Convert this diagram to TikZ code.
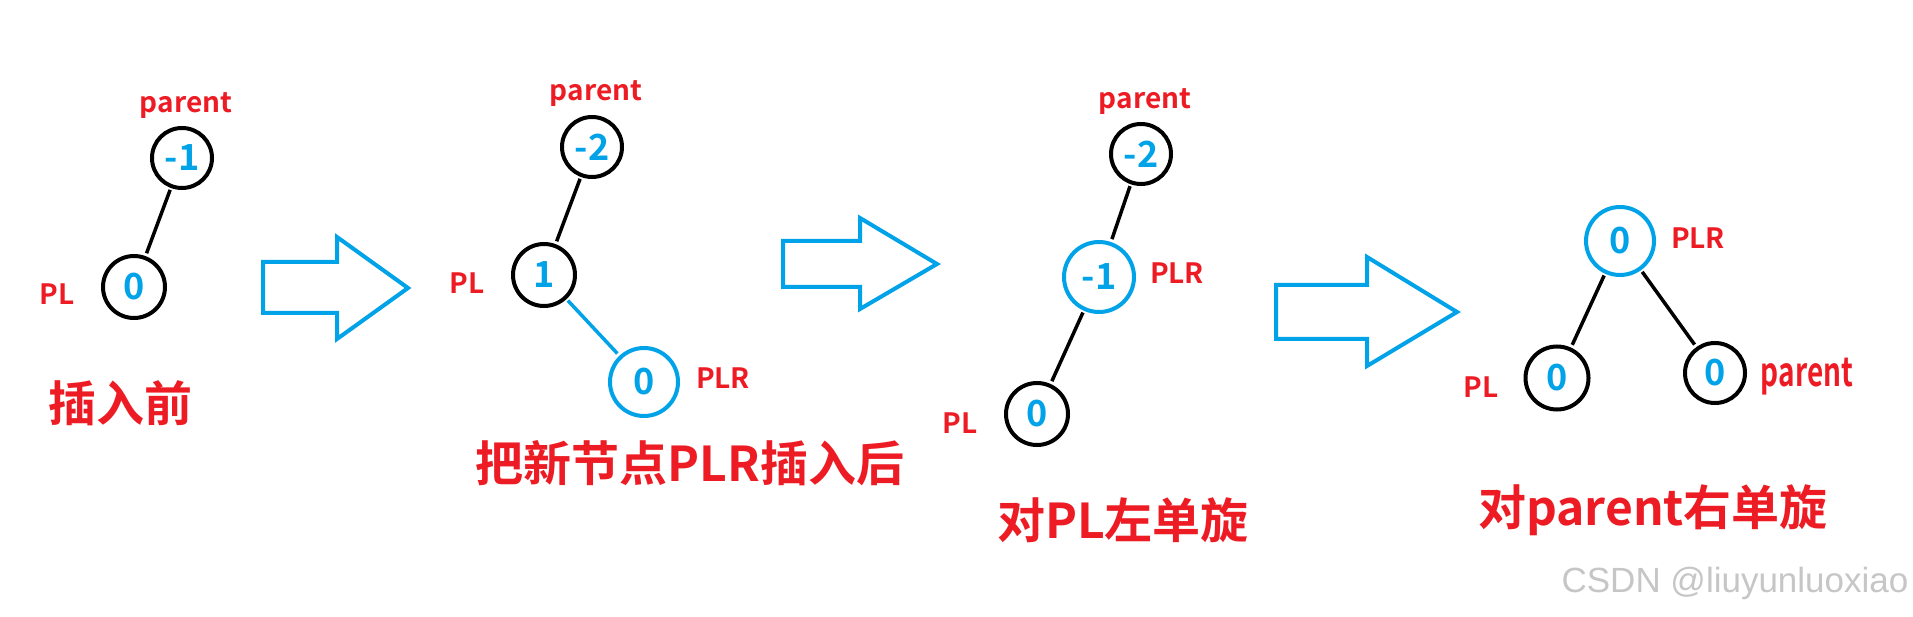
\documentclass[tikz,border=0pt]{standalone}
\usepackage{fontspec}
\newfontfamily\cjk{Noto Sans CJK SC}[BoldFont={Noto Sans CJK SC Bold}]
\newfontfamily\wm{Liberation Sans}
\definecolor{pred}{HTML}{ED1C24}
\definecolor{pblue}{HTML}{00A2E8}
\tikzset{
  tnode/.style={circle, draw=black, line width=4pt, inner sep=0pt, text=pblue,
    font=\cjk\bfseries\fontsize{36}{36}\selectfont},
  bnode/.style={tnode, draw=pblue},
  lbl/.style={text=pred, inner sep=0pt, font=\cjk\bfseries\fontsize{28}{28}\selectfont},
  ttl/.style={text=pred, inner sep=0pt, font=\cjk\bfseries\fontsize{48}{48}\selectfont},
  edge/.style={line width=3.5pt, draw=black, shorten <=2pt, shorten >=3pt},
  bedge/.style={edge, draw=pblue},
  bigarrow/.style={draw=pblue, line width=4pt, line join=miter, fill=white},
}
\begin{document}
\begin{tikzpicture}[x=1pt, y=-1pt]
\useasboundingbox[fill=white] (0,0) rectangle (1913,617);

% ---------- panel 1 ----------
\node[tnode, minimum size=60pt] (p1) at (182,158) {-1};
\node[tnode, minimum size=62pt] (l1) at (134,287) {0};
\node[lbl] (p1t) at (186,106) {parent};
\node[lbl] (l1t) at (57,294) {PL};
\draw[edge] (p1) -- (l1);
\node[ttl] (t1) at (120,403) {插入前};

\draw[bigarrow] (263,262) -- (337,262) -- (337,237) -- (408,288) -- (337,339) -- (337,313) -- (263,313) -- cycle;

% ---------- panel 2 ----------
\node[tnode, minimum size=60pt] (p2) at (592,147) {-2};
\node[tnode, minimum size=62pt] (l2) at (544,275) {1};
\node[bnode, minimum size=68pt] (r2) at (644,382) {0};
\node[lbl] (p2t) at (596,94) {parent};
\node[lbl] (l2t) at (467,283) {PL};
\node[lbl] (r2t) at (723,378) {PLR};
\draw[edge] (p2) -- (l2);
\draw[bedge] (l2) -- (r2);
\node[ttl] (t2) at (690,463) {把新节点PLR插入后};

\draw[bigarrow] (783,241) -- (860,241) -- (860,218) -- (937,264) -- (860,309) -- (860,287) -- (783,287) -- cycle;

% ---------- panel 3 ----------
\node[tnode, minimum size=60pt] (p3) at (1141,154) {-2};
\node[bnode, minimum size=70pt] (r3) at (1099,277) {-1};
\node[tnode, minimum size=62pt] (l3) at (1037,414) {0};
\node[lbl] (p3t) at (1145,102) {parent};
\node[lbl] (r3t) at (1177,273) {PLR};
\node[lbl] (l3t) at (960,423) {PL};
\draw[edge] (p3) -- (r3);
\draw[edge] (r3) -- (l3);
\node[ttl] (t3) at (1123,520) {对PL左单旋};

\draw[bigarrow] (1276,285) -- (1367,285) -- (1367,257) -- (1457,312) -- (1367,366) -- (1367,339) -- (1276,339) -- cycle;

% ---------- panel 4 ----------
\node[bnode, minimum size=68pt] (r4) at (1620,241) {0};
\node[tnode, minimum size=63pt] (l4) at (1557,378) {0};
\node[tnode, minimum size=60pt] (p4) at (1715,373) {0};
\node[lbl] (r4t) at (1698,238) {PLR};
\node[lbl] (l4t) at (1481,387) {PL};
\node[lbl, xscale=0.7, font=\cjk\bfseries\fontsize{40}{40}\selectfont] (p4t) at (1807,377) {parent};
\draw[edge] (r4) -- (l4);
\draw[edge] (r4) -- (p4);
\node[ttl] (t4) at (1653,510) {对parent右单旋};

\node[text=gray!45, inner sep=0pt, font=\wm\fontsize{35}{35}\selectfont] (wm) at (1735,583) {CSDN @liuyunluoxiao};
\end{tikzpicture}
\end{document}
